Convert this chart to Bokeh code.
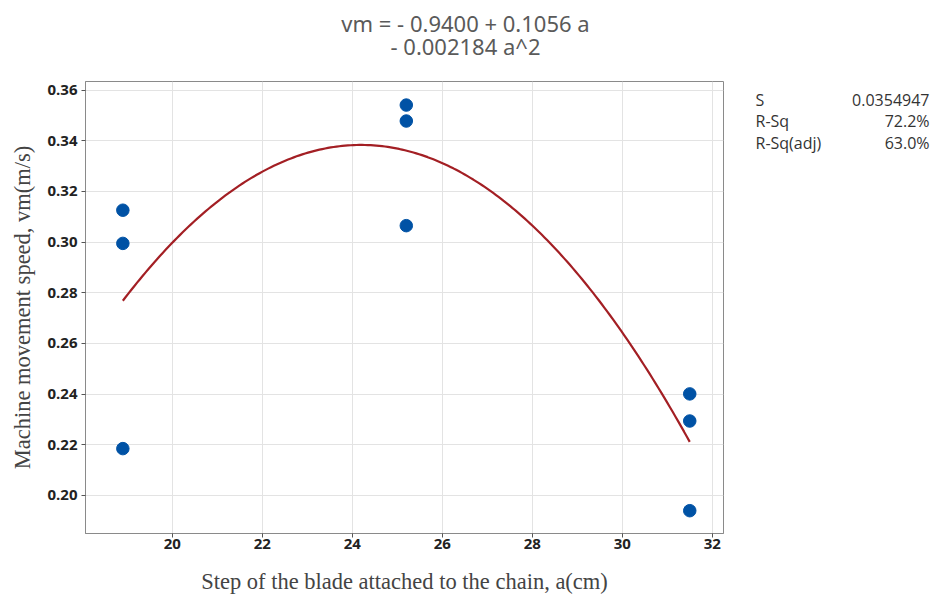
import numpy as np
from bokeh.plotting import figure
from bokeh.layouts import column, row
from bokeh.models import Range1d, FixedTicker, CustomJSTickFormatter
from bokeh.core.properties import value
from bokeh.embed import file_html
from bokeh.resources import INLINE

# ---- data ----
step_a = [18.9, 18.9, 18.9, 25.2, 25.2, 25.2, 31.5, 31.5, 31.5]
speed_vm = [0.3126, 0.2995, 0.2185, 0.3541, 0.3478, 0.3065, 0.2401, 0.2294, 0.1940]
x_ticks = [20, 22, 24, 26, 28, 30, 32]
y_ticks = [0.20, 0.22, 0.24, 0.26, 0.28, 0.30, 0.32, 0.34, 0.36]
title_lines = ["vm = - 0.9400 + 0.1056 a", "- 0.002184 a^2"]
stat_names = ["S", "R-Sq", "R-Sq(adj)"]
stat_values = ["0.0354947", "72.2%", "63.0%"]

TOTAL_W = 930
HEAD_H = 60
MAIN_W, MAIN_H = 745, 541
STAT_W = TOTAL_W - MAIN_W
FRAME_TOP, FRAME_BOTTOM = 81, 533          # page coordinates of the plot frame
B_TOP = FRAME_TOP - HEAD_H
B_BOTTOM = MAIN_H - (FRAME_BOTTOM - HEAD_H)

# ---------- header (regression equation) ----------
head = figure(width=TOTAL_W, height=HEAD_H, output_backend="svg", toolbar_location=None,
              x_range=Range1d(0, TOTAL_W), y_range=Range1d(HEAD_H, 0),
              x_axis_type=None, y_axis_type=None, min_border=0,
              outline_line_color=None, background_fill_color="white", border_fill_color="white")
head.grid.visible = False
head.text(x=[TOTAL_W / 2, TOTAL_W / 2], y=[22, 45], text=title_lines,
          text_align="center", text_baseline="middle",
          text_font=value("Noto Sans"), text_font_size="22px", text_color="#5a5a5a")

# ---------- main scatter plot ----------
p = figure(width=MAIN_W, height=MAIN_H, output_backend="svg", toolbar_location=None,
           x_range=Range1d(18.07, 32.25), y_range=Range1d(0.185, 0.3634),
           min_border_left=85, min_border_right=MAIN_W - 723,
           min_border_top=B_TOP, min_border_bottom=B_BOTTOM,
           background_fill_color="white", border_fill_color="white")
p.outline_line_color = "#8a8a8a"
p.outline_line_width = 1

p.xaxis.ticker = FixedTicker(ticks=x_ticks)
p.yaxis.ticker = FixedTicker(ticks=y_ticks)
p.yaxis.formatter = CustomJSTickFormatter(code="return tick.toFixed(2);")

for ax in (p.xaxis[0], p.yaxis[0]):
    ax.axis_line_color = "#8a8a8a"
    ax.major_tick_line_color = "#555555"
    ax.major_tick_out = 4
    ax.major_tick_in = 0
    ax.minor_tick_line_color = None
    ax.major_label_text_font = "Open Sans"
    ax.major_label_text_font_size = "15px"
    ax.major_label_text_font_style = "bold"
    ax.major_label_text_color = "#222222"
    ax.axis_label_text_font = "Liberation Serif"
    ax.axis_label_text_font_size = "22.5px"
    ax.axis_label_text_font_style = "normal"
    ax.axis_label_text_color = "#444444"

p.xaxis.major_label_standoff = 1
p.yaxis.major_label_standoff = 4
p.xaxis.axis_label = "Step of the blade attached to the chain, a(cm)"
p.yaxis.axis_label = "Machine movement speed, vm(m/s)"
p.xaxis.axis_label_standoff = 17
p.yaxis.axis_label_standoff = 9

p.xgrid.grid_line_color = "#e3e3e3"
p.ygrid.grid_line_color = "#e3e3e3"

# fitted quadratic (least squares on the data)
coef = np.polyfit(step_a, speed_vm, 2)
a_fit = np.linspace(min(step_a), max(step_a), 200)
vm_fit = np.polyval(coef, a_fit)
p.line(a_fit, vm_fit, line_color="#a31f24", line_width=2.2)

p.scatter(step_a, speed_vm, size=12.5, fill_color="#0052a5", line_color="#0052a5")

# ---------- statistics panel (frame aligned with the main frame) ----------
stats = figure(width=STAT_W, height=MAIN_H, output_backend="svg", toolbar_location=None,
               x_range=Range1d(0, STAT_W), y_range=Range1d(FRAME_BOTTOM, FRAME_TOP),
               x_axis_type=None, y_axis_type=None,
               min_border_left=0, min_border_right=0,
               min_border_top=B_TOP, min_border_bottom=B_BOTTOM,
               outline_line_color=None, background_fill_color="white", border_fill_color="white")
stats.grid.visible = False
row_y = [99 + i * 21.5 for i in range(len(stat_names))]
stats.text(x=[10] * len(stat_names), y=row_y, text=stat_names,
           text_align="left", text_baseline="middle",
           text_font=value("Open Sans"), text_font_size="16px", text_color="#333333")
stats.text(x=[STAT_W - 1] * len(stat_values), y=row_y, text=stat_values,
           text_align="right", text_baseline="middle",
           text_font=value("Open Sans"), text_font_size="16px", text_color="#333333")

layout = column(head, row(p, stats, spacing=0), spacing=0)
open("out.html", "w").write(file_html(layout, INLINE))
